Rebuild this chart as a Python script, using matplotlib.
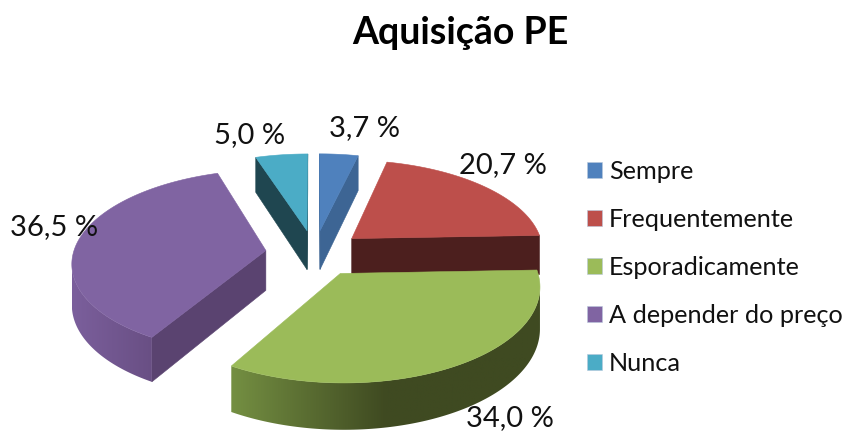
"""Aquisição PE: exploded 3D pie drawn with a small perspective projection."""

import matplotlib

matplotlib.use("Agg")
import matplotlib.pyplot as plt
import numpy as np
from matplotlib.colors import LinearSegmentedColormap
from matplotlib.patches import Patch, Polygon

plt.rcParams["font.family"] = ["Lato", "DejaVu Sans"]

TITLE = "Aquisição PE"
categories = ["Sempre", "Frequentemente", "Esporadicamente", "A depender do preço", "Nunca"]
values = [3.7, 20.7, 34.0, 36.5, 5.0]

top_colors = ["#4f81bd", "#bd4f4b", "#9bbb59", "#8064a2", "#4bacc6"]
cut_colors = ["#3d6594", "#4c1f1e", "#3f4a21", "#5a4370", "#1f4650"]
side_stops = [
    ["#3d6594", "#3d6594"],
    ["#4c1f1e", "#4c1f1e"],
    ["#748f42", "#3f4a21", "#3f4a21"],
    ["#7b5f9c", "#694f84"],
    ["#1f4650", "#1f4650"],
]
label_xy = [(365, 128), (503, 165), (510, 418), (54, 227), (250, 135)]
draw_order = [4, 0, 1, 3, 2]

# pie geometry, pixels
CX, CY = 314.5, 253
RX, RY = 192.5, 91
EXPLODE = 0.255
PERSPECTIVE = 0.12
DEPTH = 40


def project(x, y):
    """World pie coordinates (radius 1, y to the back) to image pixels and scale."""
    s = 1 / (1 + PERSPECTIVE * y)
    return CX + RX * x * s, CY - RY * y * s, s


def draw_slice(ax, start, end, top, cut, stops):
    mid = (start + end) / 2
    ox, oy = EXPLODE * np.sin(mid), EXPLODE * np.cos(mid)
    theta = np.linspace(start, end, max(int((end - start) * 60), 6))
    wx = np.concatenate([[ox], ox + np.sin(theta), [ox]])
    wy = np.concatenate([[oy], oy + np.cos(theta), [oy]])
    px, py, s = project(wx, wy)
    low = py + DEPTH * s

    last = len(px) - 2
    for i in (0, last):
        if px[i + 1] < px[i]:
            ax.fill(
                [px[i], px[i + 1], px[i + 1], px[i]],
                [py[i], py[i + 1], low[i + 1], low[i]],
                color=cut,
                lw=0.4,
                zorder=2,
            )

    # outer wall: the run of the arc that walks leftwards faces the viewer
    run = [i for i in range(1, last) if px[i + 1] < px[i]]
    if run:
        idx = np.array(run + [run[-1] + 1])
        wall = np.column_stack(
            [np.concatenate([px[idx], px[idx][::-1]]), np.concatenate([py[idx], low[idx][::-1]])]
        )
        clip = Polygon(wall, closed=True, transform=ax.transData, facecolor="none", edgecolor="none")
        ax.add_patch(clip)
        cmap = LinearSegmentedColormap.from_list("side", stops)
        image = ax.imshow(
            np.linspace(0, 1, 256).reshape(1, -1),
            cmap=cmap,
            extent=(wall[:, 0].min(), wall[:, 0].max(), wall[:, 1].max(), wall[:, 1].min()),
            aspect="auto",
            zorder=2,
        )
        image.set_clip_path(clip)

    ax.fill(px, py, color=top, lw=0.4, zorder=2.1)


def main():
    fig = plt.figure(figsize=(8.45, 4.32), dpi=100)
    ax = fig.add_axes([0, 0, 1, 1])

    fractions = np.array(values) / sum(values)
    edges = np.concatenate([[0], np.cumsum(fractions)]) * 2 * np.pi
    for i in draw_order:
        draw_slice(ax, edges[i], edges[i + 1], top_colors[i], cut_colors[i], side_stops[i])

    ax.set_xlim(0, 845)
    ax.set_ylim(432, 0)
    ax.axis("off")

    for value, (x, y) in zip(values, label_xy):
        text = f"{value:.1f} %".replace(".", ",")
        ax.text(x, y, text, fontsize=21, color="#111111", ha="center", va="center", zorder=3)

    ax.text(460, 33, TITLE, fontsize=27, fontweight="bold", color="black", ha="center", va="center")

    handles = [Patch(facecolor=c, edgecolor="#b8c8dc", lw=0.4) for c in top_colors]
    ax.legend(
        handles,
        categories,
        loc="upper left",
        bbox_to_anchor=(587 / 845, 1 - 160 / 432),
        frameon=False,
        fontsize=18.2,
        labelcolor="#111111",
        handlelength=0.6,
        handleheight=0.6,
        handletextpad=0.27,
        labelspacing=0.99,
        borderpad=0,
        borderaxespad=0,
    )

    fig.savefig("out.png", dpi=100)
    plt.close(fig)


if __name__ == "__main__":
    main()
